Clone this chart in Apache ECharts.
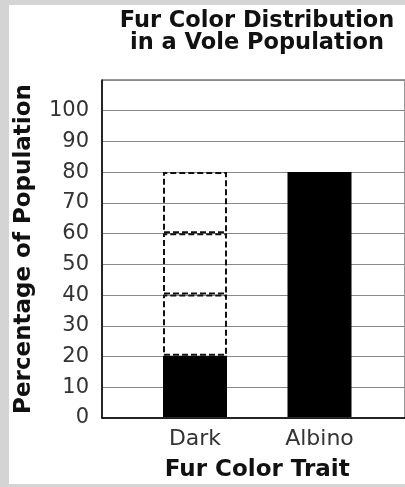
<!DOCTYPE html>
<html>
<head>
<meta charset="utf-8">
<script src="https://cdn.jsdelivr.net/npm/echarts@6/dist/echarts.min.js"></script>
<style>
  html, body { margin: 0; padding: 0; background: #d4d4d4; }
  #chart { width: 405px; height: 487px; }
</style>
</head>
<body>
<div id="chart"></div>
<script>
const titleLines = ['Fur Color Distribution', 'in a Vole Population'];
const categories = ['Dark', 'Albino'];
const percentages = [20, 80];
// dashed outline segments stacked above the Dark bar (20→40, 40→60, 60→80)
const darkOutlineSegments = [20, 20, 20];
const yAxisName = 'Percentage of Population';
const xAxisName = 'Fur Color Trait';
const yMin = 0, yMax = 110, yStep = 10;

const FONT = 'DejaVu Sans';
const chart = echarts.init(document.getElementById('chart'), null, { renderer: 'canvas' });

const outlineSeries = darkOutlineSegments.map((v, i) => ({
  type: 'bar',
  name: 'outline' + i,
  xAxisIndex: 1,
  yAxisIndex: 1,
  stack: 'dark',
  barWidth: 64,
  silent: true,
  data: categories.map((c, ci) => (ci === 0 ? v : '-')),
  itemStyle: {
    color: 'rgba(0,0,0,0)',
    borderColor: '#111',
    borderWidth: 2,
    borderType: [6, 3]
  },
  z: 3
}));

const option = {
  backgroundColor: '#d4d4d4',
  animation: false,
  graphic: [{
    type: 'rect',
    shape: { x: 9, y: 5, width: 400, height: 479 },
    style: { fill: '#fff' },
    z: -10, silent: true
  }],
  title: {
    text: titleLines.join('\n'),
    left: 257,
    textAlign: 'center',
    top: 10,
    padding: 0,
    textStyle: { fontFamily: FONT, fontWeight: 'bold', fontSize: 22.5, lineHeight: 22, color: '#111' }
  },
  grid: [
    { left: 102, right: -2, top: 80, bottom: 69, show: true, borderColor: '#333', borderWidth: 1, backgroundColor: 'transparent' },
    { left: 132.75, right: 23.25, top: 80, bottom: 69 }
  ],
  xAxis: [
    {
      gridIndex: 0, type: 'value', min: 0, max: 1,
      axisLine: { show: true, onZero: false, lineStyle: { color: '#000', width: 1.5 } },
      axisTick: { show: false }, axisLabel: { show: false }, splitLine: { show: false }
    },
    {
      gridIndex: 1, type: 'category', data: categories,
      axisLine: { show: false }, axisTick: { show: false },
      axisLabel: { fontFamily: FONT, fontSize: 22, color: '#333', margin: 11 },
      name: xAxisName, nameLocation: 'middle', nameGap: 42,
      nameTextStyle: { fontFamily: FONT, fontWeight: 'bold', fontSize: 23, color: '#111' }
    }
  ],
  yAxis: [
    {
      gridIndex: 0, type: 'value', min: yMin, max: yMax, interval: yStep,
      axisLine: { show: true, lineStyle: { color: '#000', width: 1.5 } },
      axisTick: { show: false },
      axisLabel: {
        fontFamily: FONT, fontSize: 21, color: '#333', margin: 13,
        formatter: v => (v >= 110 ? '' : String(v))
      },
      splitLine: { show: true, lineStyle: { color: '#888', width: 1 } },
      name: yAxisName, nameLocation: 'middle', nameGap: 66, nameRotate: 90,
      nameTextStyle: { fontFamily: FONT, fontWeight: 'bold', fontSize: 23, color: '#111' }
    },
    {
      gridIndex: 1, type: 'value', min: yMin, max: yMax, interval: yStep, show: false
    }
  ],
  series: [
    {
      type: 'bar',
      name: 'Percentage',
      xAxisIndex: 1,
      yAxisIndex: 1,
      stack: 'dark',
      barWidth: 64,
      data: percentages,
      itemStyle: { color: '#000' },
      z: 2
    },
    ...outlineSeries
  ]
};
chart.setOption(option);
</script>
</body>
</html>
